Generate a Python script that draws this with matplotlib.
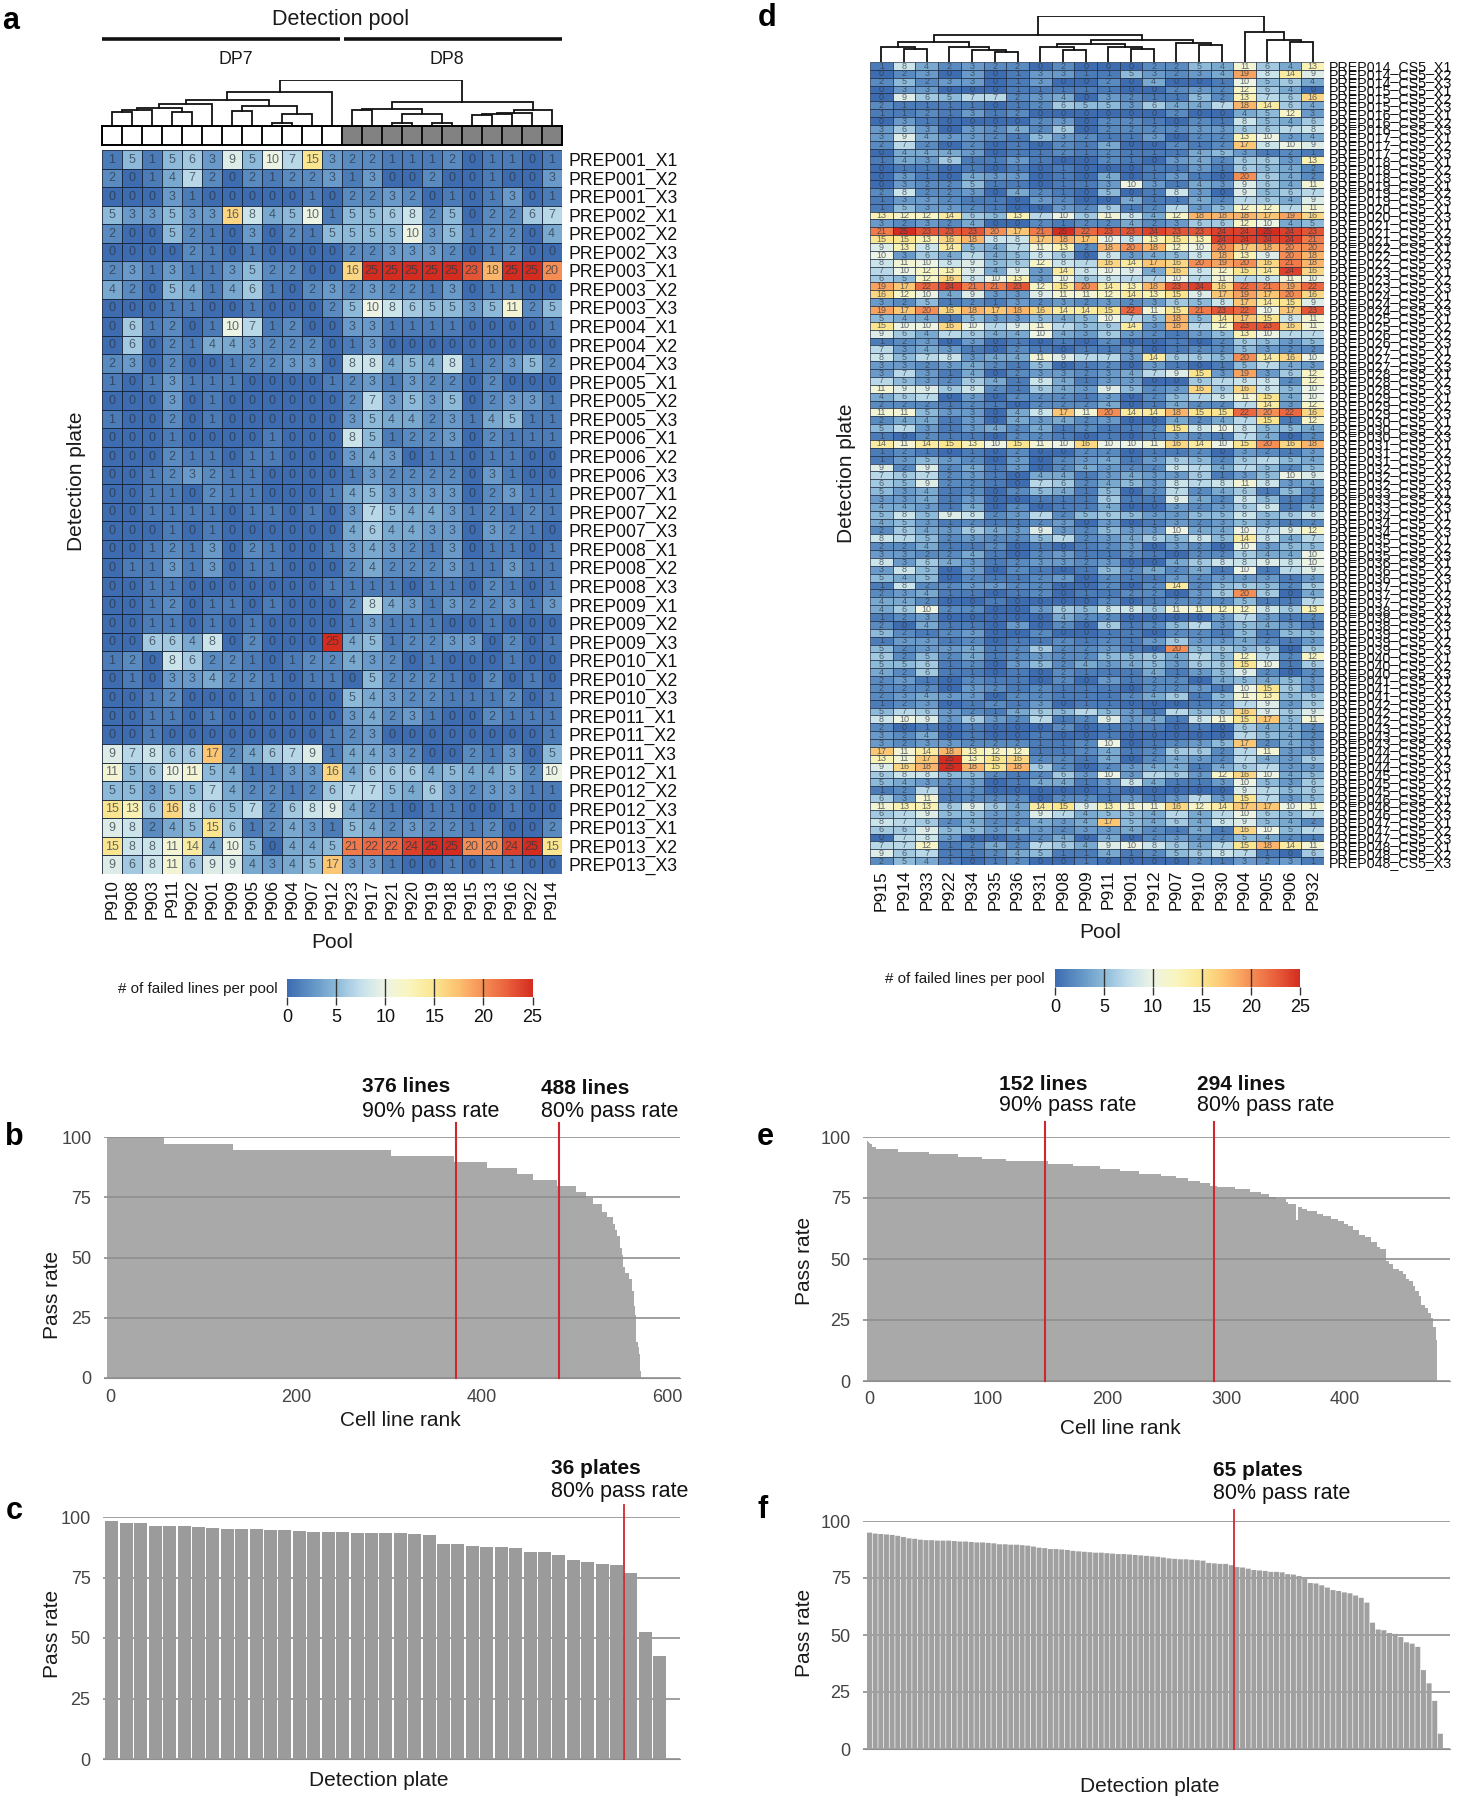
import numpy as np
import matplotlib
matplotlib.use('Agg')
import matplotlib.pyplot as plt
from matplotlib.colors import LinearSegmentedColormap

plt.rcParams['font.family'] = ['Liberation Sans', 'DejaVu Sans']

W, H = 1457, 1800

# panel a
pools_a = ['P910', 'P908', 'P903', 'P911', 'P902', 'P901', 'P909', 'P905', 'P906', 'P904', 'P907', 'P912',
           'P923', 'P917', 'P921', 'P920', 'P919', 'P918', 'P915', 'P913', 'P916', 'P922', 'P914']
plates_a = [f'PREP{p:03d}_X{k}' for p in range(1, 14) for k in (1, 2, 3)]
fails_a = [
    [1, 5, 1, 5, 6, 3, 9, 5, 10, 7, 15, 3, 2, 2, 1, 1, 1, 2, 0, 1, 1, 0, 1],
    [2, 0, 1, 4, 7, 2, 0, 2, 1, 2, 2, 3, 1, 3, 0, 0, 2, 0, 0, 1, 0, 0, 3],
    [0, 0, 0, 3, 1, 0, 0, 0, 0, 0, 1, 0, 2, 2, 3, 2, 0, 1, 0, 1, 3, 0, 1],
    [5, 3, 3, 5, 3, 3, 16, 8, 4, 5, 10, 1, 5, 5, 6, 8, 2, 5, 0, 2, 2, 6, 7],
    [2, 0, 0, 5, 2, 1, 0, 3, 0, 2, 1, 5, 5, 5, 5, 10, 3, 5, 1, 2, 2, 0, 4],
    [0, 0, 0, 0, 2, 1, 0, 1, 0, 0, 0, 0, 2, 2, 3, 3, 3, 2, 0, 1, 2, 0, 0],
    [2, 3, 1, 3, 1, 1, 3, 5, 2, 2, 0, 0, 16, 25, 25, 25, 25, 25, 23, 18, 25, 25, 20],
    [4, 2, 0, 5, 4, 1, 4, 6, 1, 0, 2, 3, 2, 3, 2, 2, 1, 3, 0, 1, 1, 0, 0],
    [0, 0, 0, 1, 1, 0, 0, 1, 0, 0, 0, 2, 5, 10, 8, 6, 5, 5, 3, 5, 11, 2, 5],
    [0, 6, 1, 2, 0, 1, 10, 7, 1, 2, 0, 0, 3, 3, 1, 1, 1, 1, 0, 0, 0, 0, 1],
    [0, 6, 0, 2, 1, 4, 4, 3, 2, 2, 2, 0, 1, 3, 0, 0, 0, 0, 0, 0, 0, 0, 0],
    [2, 3, 0, 2, 0, 0, 1, 2, 2, 3, 3, 0, 8, 8, 4, 5, 4, 8, 1, 2, 3, 5, 2],
    [1, 0, 1, 3, 1, 1, 1, 0, 0, 0, 0, 1, 2, 3, 1, 3, 2, 2, 0, 2, 0, 0, 0],
    [0, 0, 0, 3, 0, 1, 0, 0, 0, 0, 0, 0, 2, 7, 3, 5, 3, 5, 0, 2, 3, 3, 1],
    [1, 0, 0, 2, 0, 1, 0, 0, 0, 0, 0, 0, 3, 5, 4, 4, 2, 3, 1, 4, 5, 1, 1],
    [0, 0, 0, 1, 0, 0, 0, 0, 1, 0, 0, 0, 8, 5, 1, 2, 2, 3, 0, 2, 1, 1, 1],
    [0, 0, 0, 2, 1, 1, 0, 1, 1, 0, 0, 0, 3, 4, 3, 0, 1, 1, 0, 1, 1, 0, 0],
    [0, 0, 1, 2, 3, 2, 1, 1, 0, 0, 0, 0, 1, 3, 2, 2, 2, 2, 0, 3, 1, 0, 0],
    [0, 0, 1, 1, 0, 2, 1, 1, 0, 0, 0, 1, 4, 5, 3, 3, 3, 3, 0, 2, 3, 1, 1],
    [0, 0, 1, 1, 1, 1, 0, 1, 1, 0, 1, 0, 3, 7, 5, 4, 4, 3, 1, 2, 1, 2, 1],
    [0, 0, 0, 1, 0, 1, 0, 0, 0, 0, 0, 0, 4, 6, 4, 4, 3, 3, 0, 3, 2, 1, 0],
    [0, 0, 1, 2, 1, 3, 0, 2, 1, 0, 0, 1, 3, 4, 3, 2, 1, 3, 0, 1, 1, 0, 1],
    [0, 1, 1, 3, 1, 3, 0, 1, 1, 0, 0, 0, 2, 4, 2, 2, 2, 3, 1, 1, 3, 1, 1],
    [0, 0, 1, 1, 0, 0, 0, 0, 0, 0, 0, 1, 1, 1, 1, 0, 1, 1, 0, 2, 1, 0, 1],
    [0, 0, 1, 2, 0, 1, 1, 0, 1, 0, 0, 0, 2, 8, 4, 3, 1, 3, 2, 2, 3, 1, 3],
    [0, 0, 1, 1, 0, 1, 0, 1, 0, 0, 0, 0, 1, 3, 1, 1, 1, 0, 0, 1, 0, 0, 0],
    [0, 0, 6, 6, 4, 8, 0, 2, 0, 0, 0, 25, 4, 5, 1, 2, 2, 3, 3, 0, 2, 0, 1],
    [1, 2, 0, 8, 6, 2, 2, 1, 0, 1, 2, 2, 4, 3, 2, 0, 1, 0, 0, 0, 1, 0, 0],
    [0, 1, 0, 3, 3, 4, 2, 2, 1, 0, 1, 1, 0, 5, 2, 2, 2, 1, 0, 2, 0, 1, 0],
    [0, 0, 1, 2, 0, 0, 0, 1, 0, 0, 0, 0, 5, 4, 3, 2, 2, 1, 1, 1, 2, 0, 1],
    [0, 0, 1, 1, 0, 1, 0, 0, 0, 0, 0, 0, 3, 4, 2, 3, 1, 0, 0, 2, 1, 1, 1],
    [0, 0, 1, 0, 0, 0, 0, 0, 0, 0, 0, 1, 2, 3, 0, 0, 0, 0, 0, 0, 0, 0, 1],
    [9, 7, 8, 6, 6, 17, 2, 4, 6, 7, 9, 1, 4, 4, 3, 2, 0, 0, 2, 1, 3, 0, 5],
    [11, 5, 6, 10, 11, 5, 4, 1, 1, 3, 3, 16, 4, 6, 6, 6, 4, 5, 4, 4, 5, 2, 10],
    [5, 5, 3, 5, 5, 7, 4, 2, 2, 1, 2, 6, 7, 7, 5, 4, 6, 3, 2, 3, 3, 1, 1],
    [15, 13, 6, 16, 8, 6, 5, 7, 2, 6, 8, 9, 4, 2, 1, 0, 1, 1, 0, 0, 1, 0, 0],
    [9, 8, 2, 4, 5, 15, 6, 1, 2, 4, 3, 1, 5, 4, 2, 3, 2, 2, 1, 2, 0, 0, 2],
    [15, 8, 8, 11, 14, 4, 10, 5, 0, 4, 4, 5, 21, 22, 22, 24, 25, 25, 20, 20, 24, 25, 15],
    [9, 6, 8, 11, 6, 9, 9, 4, 3, 4, 5, 17, 3, 3, 1, 0, 0, 1, 0, 1, 1, 0, 0],
]
# dendrogram merges as (left, right, height), leaves are column numbers
dendro_a_left = ((((((0, 1, 39), 2, 46), (3, 4, 39), 51), 5, 64), ((6, 7, 42), ((8, 9, 5), 10, 33), 58), 76), 11, 100)
dendro_a_right = (((12, 13, 44), ((14, 15, 7), (16, 17, 7), 33), 47),
                  ((((18, 19, 29), 20, 33), 21, 36), 22, 46), 68)
root_a_height = 134

# panel d
pools_d = ['P915', 'P914', 'P933', 'P922', 'P934', 'P935', 'P936', 'P931', 'P908', 'P909',
           'P911', 'P901', 'P912', 'P907', 'P910', 'P930', 'P904', 'P905', 'P906', 'P932']
missing_d = ['PREP020_CS5_X2', 'PREP025_CS5_X3', 'PREP026_CS5_X1']
plates_d = [f'PREP{p:03d}_CS5_X{k}' for p in range(14, 49) for k in (1, 2, 3)]
plates_d = [p for p in plates_d if p not in missing_d]
fails_d = [
    [1, 8, 4, 2, 3, 2, 2, 0, 2, 0, 0, 0, 2, 2, 5, 4, 11, 6, 4, 13],
    [0, 2, 3, 0, 3, 0, 1, 3, 3, 1, 1, 5, 3, 2, 3, 4, 19, 8, 14, 9],
    [2, 5, 2, 3, 3, 0, 1, 3, 0, 0, 2, 0, 4, 0, 0, 1, 10, 5, 6, 4],
    [0, 3, 3, 0, 0, 0, 1, 1, 1, 1, 1, 0, 0, 2, 3, 2, 12, 6, 4, 0],
    [0, 9, 6, 5, 7, 7, 2, 3, 4, 0, 3, 2, 1, 1, 5, 2, 13, 7, 6, 16],
    [2, 1, 1, 1, 1, 0, 1, 2, 6, 5, 5, 3, 6, 4, 4, 7, 18, 14, 6, 4],
    [1, 1, 2, 1, 3, 1, 2, 0, 0, 0, 0, 0, 0, 2, 0, 0, 4, 5, 12, 3],
    [0, 3, 1, 0, 0, 0, 0, 2, 3, 0, 2, 2, 1, 0, 2, 1, 8, 5, 4, 6],
    [3, 6, 3, 0, 3, 2, 4, 2, 6, 0, 2, 2, 2, 2, 3, 3, 6, 6, 7, 8],
    [3, 9, 4, 3, 3, 2, 1, 5, 3, 2, 1, 1, 3, 0, 2, 2, 13, 10, 3, 4],
    [2, 7, 2, 0, 2, 0, 1, 0, 2, 1, 4, 0, 0, 2, 1, 2, 17, 8, 10, 9],
    [0, 4, 4, 4, 3, 0, 1, 1, 2, 1, 2, 1, 1, 1, 4, 5, 3, 1, 2, 1],
    [1, 4, 3, 6, 1, 1, 3, 1, 0, 0, 2, 1, 0, 3, 4, 2, 6, 6, 3, 13],
    [0, 1, 1, 0, 1, 0, 1, 0, 1, 0, 0, 0, 1, 1, 3, 1, 6, 5, 4, 2],
    [0, 3, 1, 0, 4, 3, 3, 0, 1, 0, 4, 0, 1, 3, 1, 0, 20, 6, 4, 2],
    [0, 3, 2, 2, 5, 1, 1, 0, 1, 1, 3, 10, 3, 1, 4, 3, 9, 6, 4, 11],
    [2, 8, 2, 2, 3, 0, 4, 2, 1, 0, 5, 0, 1, 8, 3, 0, 9, 5, 6, 7],
    [1, 3, 3, 2, 1, 1, 0, 3, 2, 0, 0, 4, 1, 1, 4, 2, 7, 6, 4, 9],
    [1, 5, 3, 3, 2, 1, 0, 0, 3, 2, 6, 1, 2, 7, 3, 5, 12, 12, 7, 11],
    [13, 12, 12, 14, 6, 5, 13, 7, 10, 6, 11, 8, 4, 12, 18, 18, 18, 17, 19, 16],
    [3, 2, 3, 2, 4, 0, 0, 2, 1, 2, 2, 4, 2, 3, 6, 6, 12, 10, 4, 5],
    [21, 25, 23, 23, 23, 20, 17, 21, 25, 22, 23, 23, 24, 23, 23, 24, 24, 25, 24, 23],
    [15, 15, 13, 16, 18, 8, 8, 17, 18, 17, 10, 8, 13, 15, 13, 24, 24, 24, 24, 21],
    [9, 13, 8, 14, 5, 4, 7, 11, 13, 2, 18, 20, 18, 12, 10, 20, 17, 18, 20, 20],
    [10, 3, 6, 4, 7, 4, 5, 8, 6, 0, 8, 3, 4, 5, 8, 18, 13, 9, 20, 18],
    [8, 11, 10, 8, 9, 5, 6, 12, 8, 7, 16, 14, 17, 16, 20, 19, 20, 16, 21, 18],
    [7, 10, 12, 13, 9, 4, 9, 3, 14, 8, 10, 9, 4, 16, 8, 12, 15, 14, 24, 16],
    [6, 5, 12, 16, 8, 10, 13, 3, 10, 6, 8, 7, 7, 10, 7, 11, 7, 8, 11, 10],
    [19, 17, 22, 24, 21, 21, 23, 12, 15, 20, 14, 13, 18, 23, 24, 16, 22, 21, 19, 22],
    [16, 12, 10, 4, 9, 3, 3, 9, 11, 11, 12, 14, 13, 15, 9, 17, 19, 17, 20, 16],
    [3, 2, 5, 1, 2, 1, 3, 2, 3, 2, 3, 2, 3, 6, 5, 8, 17, 14, 15, 9],
    [19, 17, 20, 16, 18, 17, 18, 16, 14, 14, 15, 22, 11, 15, 21, 23, 22, 10, 17, 23],
    [5, 4, 4, 1, 5, 3, 3, 5, 4, 5, 10, 7, 5, 18, 5, 14, 17, 15, 8, 11],
    [15, 10, 10, 16, 10, 7, 9, 11, 7, 5, 6, 14, 3, 18, 7, 12, 23, 23, 16, 11],
    [9, 6, 4, 7, 6, 4, 4, 10, 4, 3, 6, 3, 2, 1, 3, 5, 13, 10, 7, 7],
    [1, 2, 3, 0, 3, 0, 1, 0, 1, 0, 2, 0, 0, 1, 0, 2, 6, 5, 3, 5],
    [7, 3, 4, 3, 1, 0, 2, 1, 0, 1, 1, 2, 0, 1, 2, 2, 5, 3, 2, 2],
    [8, 5, 7, 8, 3, 4, 4, 11, 9, 7, 7, 3, 14, 6, 6, 5, 20, 14, 16, 10],
    [3, 3, 2, 3, 4, 2, 1, 5, 0, 1, 2, 0, 3, 1, 0, 1, 5, 7, 4, 3],
    [3, 7, 3, 1, 4, 0, 2, 3, 3, 2, 3, 4, 7, 9, 15, 3, 19, 3, 6, 12],
    [7, 5, 3, 2, 6, 4, 1, 8, 4, 1, 3, 3, 0, 0, 6, 7, 8, 8, 2, 12],
    [11, 9, 9, 6, 8, 2, 1, 6, 4, 3, 9, 5, 2, 3, 16, 6, 16, 8, 5, 10],
    [4, 6, 7, 0, 3, 0, 2, 2, 2, 1, 3, 0, 2, 5, 7, 8, 11, 15, 4, 10],
    [2, 2, 2, 1, 2, 1, 0, 2, 2, 2, 4, 0, 1, 4, 2, 2, 7, 14, 3, 12],
    [11, 11, 5, 3, 3, 0, 4, 8, 17, 11, 20, 14, 14, 18, 15, 15, 22, 20, 22, 16],
    [2, 4, 4, 1, 3, 0, 4, 3, 4, 2, 3, 0, 0, 4, 2, 4, 7, 15, 1, 12],
    [5, 7, 3, 1, 3, 4, 2, 4, 1, 2, 1, 1, 2, 15, 8, 10, 8, 5, 5, 4],
    [1, 0, 2, 1, 1, 0, 2, 2, 1, 0, 1, 0, 1, 3, 2, 1, 7, 4, 0, 2],
    [14, 11, 14, 15, 13, 10, 15, 11, 10, 16, 10, 10, 11, 16, 14, 10, 15, 20, 16, 18],
    [1, 2, 1, 0, 1, 0, 2, 0, 0, 2, 2, 0, 1, 1, 2, 0, 3, 2, 1, 3],
    [1, 3, 5, 3, 2, 0, 3, 0, 2, 3, 4, 1, 3, 6, 5, 2, 6, 7, 5, 4],
    [9, 2, 9, 2, 4, 1, 3, 0, 2, 4, 3, 2, 2, 8, 7, 4, 7, 5, 2, 5],
    [7, 6, 7, 2, 3, 1, 0, 4, 4, 1, 3, 4, 3, 3, 6, 1, 3, 5, 10, 9],
    [6, 5, 9, 2, 2, 1, 0, 7, 6, 2, 4, 5, 3, 8, 7, 8, 11, 8, 3, 4],
    [5, 3, 4, 1, 2, 0, 2, 5, 4, 1, 5, 0, 2, 7, 2, 4, 6, 1, 5, 2],
    [3, 3, 4, 1, 3, 0, 0, 1, 1, 1, 6, 1, 1, 9, 4, 2, 8, 5, 1, 2],
    [4, 4, 3, 1, 4, 0, 2, 0, 1, 1, 4, 0, 0, 3, 2, 3, 6, 8, 1, 4],
    [5, 8, 5, 9, 8, 2, 3, 7, 2, 5, 6, 5, 3, 3, 5, 5, 8, 5, 6, 8],
    [4, 5, 3, 1, 2, 1, 1, 2, 3, 0, 3, 0, 1, 3, 2, 3, 5, 3, 1, 2],
    [2, 6, 4, 3, 6, 4, 3, 9, 3, 2, 5, 3, 3, 10, 4, 4, 10, 7, 9, 12],
    [8, 7, 5, 2, 3, 2, 2, 5, 7, 2, 3, 4, 6, 5, 8, 5, 14, 8, 4, 7],
    [2, 2, 4, 1, 1, 2, 0, 1, 0, 1, 2, 3, 0, 3, 2, 0, 10, 3, 5, 5],
    [3, 3, 2, 2, 4, 1, 0, 2, 3, 1, 1, 2, 1, 0, 2, 2, 6, 4, 4, 10],
    [8, 3, 6, 4, 3, 1, 2, 3, 3, 2, 3, 0, 0, 4, 6, 8, 8, 9, 8, 10],
    [3, 8, 5, 0, 3, 0, 2, 1, 0, 1, 5, 2, 4, 2, 4, 1, 10, 1, 7, 9],
    [5, 4, 5, 0, 2, 1, 1, 2, 3, 0, 2, 1, 1, 3, 2, 3, 3, 3, 1, 3],
    [1, 8, 2, 2, 3, 3, 2, 2, 0, 0, 2, 0, 2, 14, 2, 5, 6, 5, 2, 6],
    [2, 3, 4, 1, 1, 0, 1, 2, 0, 1, 1, 2, 2, 0, 3, 6, 20, 6, 0, 4],
    [4, 4, 2, 0, 0, 1, 0, 0, 0, 0, 2, 0, 1, 2, 2, 2, 5, 1, 1, 7],
    [4, 6, 10, 2, 2, 0, 0, 3, 6, 5, 8, 8, 6, 11, 11, 12, 12, 8, 6, 13],
    [1, 2, 3, 0, 0, 0, 0, 0, 4, 2, 2, 0, 0, 0, 0, 3, 7, 3, 1, 2],
    [2, 0, 4, 1, 1, 0, 3, 0, 2, 0, 6, 1, 2, 5, 7, 3, 5, 4, 3, 1],
    [5, 2, 1, 2, 3, 0, 0, 2, 0, 0, 1, 1, 0, 2, 2, 1, 5, 1, 5, 5],
    [1, 3, 3, 1, 2, 0, 1, 1, 2, 1, 2, 1, 3, 6, 3, 3, 4, 2, 1, 3],
    [5, 2, 3, 3, 4, 1, 2, 6, 2, 2, 3, 1, 0, 20, 5, 6, 5, 6, 0, 6],
    [6, 2, 5, 2, 4, 1, 2, 3, 2, 2, 5, 5, 6, 4, 7, 5, 12, 7, 2, 12],
    [5, 5, 6, 1, 2, 0, 3, 5, 2, 4, 3, 4, 5, 3, 6, 6, 15, 10, 1, 6],
    [4, 2, 6, 1, 1, 0, 1, 0, 2, 1, 1, 1, 4, 1, 3, 5, 9, 2, 0, 2],
    [2, 3, 1, 0, 2, 1, 1, 0, 2, 0, 3, 1, 2, 2, 0, 4, 5, 4, 5, 3],
    [2, 2, 2, 0, 3, 2, 1, 2, 1, 1, 1, 0, 2, 2, 3, 1, 10, 15, 6, 3],
    [2, 3, 4, 3, 3, 0, 2, 2, 1, 1, 1, 2, 4, 6, 1, 5, 11, 13, 5, 6],
    [1, 2, 3, 0, 1, 2, 1, 3, 0, 1, 1, 0, 0, 0, 1, 2, 7, 9, 3, 6],
    [5, 7, 6, 3, 2, 1, 4, 6, 5, 7, 5, 3, 1, 7, 5, 6, 16, 9, 6, 9],
    [8, 10, 9, 3, 6, 3, 2, 7, 1, 2, 9, 3, 4, 1, 8, 11, 15, 17, 5, 11],
    [2, 0, 1, 0, 1, 0, 0, 0, 2, 0, 1, 1, 1, 0, 1, 0, 6, 4, 4, 2],
    [3, 2, 4, 0, 1, 0, 0, 1, 0, 0, 1, 0, 0, 0, 0, 0, 7, 5, 4, 2],
    [3, 2, 3, 3, 2, 2, 2, 1, 1, 2, 10, 0, 1, 2, 3, 5, 17, 2, 4, 3],
    [17, 11, 14, 18, 13, 12, 12, 1, 1, 2, 4, 1, 2, 6, 6, 2, 7, 11, 3, 3],
    [13, 11, 17, 25, 13, 15, 16, 2, 2, 1, 4, 0, 2, 4, 3, 2, 7, 4, 3, 6],
    [9, 16, 18, 25, 18, 15, 18, 6, 2, 0, 2, 3, 4, 4, 1, 4, 6, 7, 3, 3],
    [6, 8, 8, 5, 5, 2, 1, 2, 6, 3, 10, 3, 7, 6, 3, 12, 16, 10, 4, 5],
    [5, 4, 3, 2, 3, 0, 1, 4, 4, 1, 3, 8, 4, 1, 1, 3, 10, 5, 3, 6],
    [1, 2, 7, 1, 2, 0, 0, 0, 0, 0, 1, 0, 0, 0, 0, 0, 9, 7, 5, 6],
    [6, 3, 11, 1, 2, 2, 2, 0, 2, 2, 1, 3, 1, 3, 7, 3, 15, 7, 3, 5],
    [11, 13, 13, 6, 9, 6, 4, 14, 15, 9, 13, 11, 11, 16, 12, 14, 17, 17, 10, 11],
    [6, 7, 9, 5, 5, 3, 3, 9, 7, 4, 5, 5, 4, 7, 4, 7, 10, 6, 5, 7],
    [8, 7, 6, 2, 4, 2, 2, 4, 3, 4, 17, 5, 4, 6, 4, 8, 9, 5, 4, 2],
    [6, 6, 9, 5, 5, 3, 4, 3, 2, 3, 3, 4, 2, 1, 4, 1, 16, 10, 5, 7],
    [0, 7, 8, 3, 0, 0, 1, 2, 4, 0, 4, 0, 2, 3, 2, 2, 5, 4, 2, 1],
    [7, 7, 12, 1, 2, 4, 2, 7, 6, 4, 9, 10, 8, 6, 4, 7, 15, 18, 14, 11],
    [9, 6, 7, 1, 1, 2, 4, 5, 1, 1, 4, 1, 2, 5, 6, 8, 7, 1, 0, 6],
    [2, 5, 4, 1, 0, 1, 2, 0, 0, 1, 0, 0, 0, 0, 2, 1, 3, 2, 3, 1],
]
dendro_d_left = (((0, (1, 2, 40), 45), (3, (4, (5, 6, 30), 37), 47), 60),
                 (((7, (8, 9, 37), 45), (10, (11, 12, 40), 47), 55), (13, (14, 15, 52), 59), 68), 83)
dendro_d_right = (16, (17, (18, 19, 60), 68), 91)
root_d_height = 139

# pass rates of single cell lines, as level and number of lines at that level
rate_levels_b = [100, 97.3, 94.7, 92, 89.5, 87, 84.5, 82, 79.5, 77, 74.5, 72, 69, 66.6, 64, 61.5, 59, 54, 51, 46,
                 43.5, 41, 36, 30, 26, 15, 13, 10, 3]
rate_counts_b = [62, 75, 171, 68, 36, 32, 18, 26, 20, 11, 8, 10, 5, 7, 2, 2, 3, 2, 2, 2, 4, 3, 2, 2, 1, 2, 1, 1, 1]
rate_levels_e = [98.5, 98, 97.5, 97, 96, 95, 94, 93, 92, 91, 90, 89, 88, 87, 86, 85, 84, 83, 82, 81, 80, 79.5, 78.5,
                 77.5, 76.5, 75.5, 74.5, 73.5, 72.5, 66, 71.5, 70.5, 69.5, 68.5, 67.5, 66.5, 65.5, 64.5, 63.5, 62, 60,
                 59, 57, 55, 54, 49, 48, 46, 45, 44, 42, 41, 39, 37, 35, 31, 30, 28, 26, 22, 17]
rate_counts_e = [1, 1, 1, 1, 4, 18, 26, 25, 20, 20, 35, 21, 23, 17, 16, 18, 13, 10, 10, 8, 6, 15, 13,
                 9, 7, 6, 8, 2, 7, 1, 4, 4, 8, 5, 7, 6, 5, 3, 5, 5, 5,
                 5, 5, 2, 5, 3, 3, 5, 4, 2, 3, 3, 2, 3, 2, 3, 3, 2, 2, 2, 1]

# pass rates per plate
plate_rates_c = [98.2, 97.6, 97.5, 96.3, 96.3, 96.1, 95.8, 95.5, 95.2, 95.2, 94.9, 94.6, 94.6, 94.2, 94, 94, 93.7,
                 93.5, 93.2, 93.2, 93.2, 92.9, 92.7, 89, 88.7, 88, 87.6, 87.4, 87, 85.6, 85.4, 84.5, 82.4, 81.5,
                 80.6, 80.2, 77, 52.3, 42.7]
plate_rates_f = [94.9, 94.5, 94.3, 94.1, 93.9, 93.5, 93.0, 92.4, 92.2, 91.8, 91.6, 91.6, 91.4, 91.4, 91.4, 91.2, 91.0,
                 91.0, 90.8, 90.6, 90.6, 90.4, 90.2, 89.8, 89.8, 89.6, 89.6, 89.4, 89.2, 88.8, 88.3, 88.1, 87.7, 87.7,
                 87.5, 87.3, 86.9, 86.7, 86.5, 86.3, 86.1, 86.1, 85.9, 85.7, 85.5, 85.5, 85.3, 85.1, 84.9, 84.7, 84.5,
                 84.3, 84.0, 83.6, 83.4, 83.2, 83.2, 83.0, 82.8, 82.6, 81.6, 81.4, 81.2, 81.2, 80.6, 79.8, 79.6, 79.1,
                 78.5, 78.3, 78.1, 77.7, 77.7, 77.5, 76.7, 76.5, 75.9, 75.1, 72.8, 72.6, 71.8, 70.8, 69.7, 69.3, 68.7,
                 68.3, 67.3, 66.3, 64.2, 55.4, 52.4, 52.1, 50.9, 50.5, 49.1, 46.8, 46.2, 44.8, 34.6, 28.8, 21.1, 6.7]

cmap_colors = ['#3d6db0', '#6193c5', '#8dbad9', '#c4e0ec', '#eef4e3', '#faf5bd', '#fbe58f', '#fcc070', '#f58e55',
               '#e9603c', '#d42d20']
heat_cmap = LinearSegmentedColormap.from_list('fails', cmap_colors)

fig = plt.figure(figsize=(W / 100, H / 100), dpi=100)


def px_axes(left, top, right, bottom):
    return fig.add_axes([left / W, 1 - bottom / H, (right - left) / W, (bottom - top) / H])


def label(x, y, s, size=15, **kw):
    kw.setdefault('ha', 'center')
    kw.setdefault('va', 'center')
    kw.setdefault('color', '#1a1a1a')
    fig.text(x / W, 1 - y / H, s, fontsize=size, **kw)


def heatmap(box, data, rows, cols, cell_size, row_size, col_size, row_pad, col_pad, lw):
    ax = px_axes(*box)
    data = np.array(data)
    ax.pcolormesh(data, cmap=heat_cmap, vmin=0, vmax=25, edgecolors='#16233a', linewidth=lw, antialiased=True)
    ax.set_ylim(len(rows), 0)
    ax.set_xlim(0, len(cols))
    for i in range(data.shape[0]):
        for j in range(data.shape[1]):
            ax.text(j + 0.5, i + 0.52, str(data[i, j]), ha='center', va='center', fontsize=cell_size,
                    color='#2a3442', alpha=0.72)
    ax.yaxis.tick_right()
    ax.set_yticks(np.arange(len(rows)) + 0.5, rows, fontsize=row_size, color='#111111')
    ax.set_xticks(np.arange(len(cols)) + 0.5, cols, rotation=90, fontsize=col_size, color='#111111')
    ax.tick_params(length=0)
    ax.tick_params(axis='y', pad=row_pad)
    ax.tick_params(axis='x', pad=col_pad)
    for s in ax.spines.values():
        s.set_visible(False)
    return ax


def draw_tree(ax, node, lw):
    # returns position and height of the node
    if not isinstance(node, tuple):
        return node + 0.5, 0
    xa, ya = draw_tree(ax, node[0], lw)
    xb, yb = draw_tree(ax, node[1], lw)
    h = node[2]
    ax.plot([xa, xa, xb, xb], [ya, h, h, yb], color='#111111', lw=lw, solid_joinstyle='miter')
    return (xa + xb) / 2, h


def colorbar(box, tick_size):
    ax = px_axes(*box)
    sm = plt.cm.ScalarMappable(cmap=heat_cmap, norm=plt.Normalize(0, 25))
    cb = fig.colorbar(sm, cax=ax, orientation='horizontal', ticks=[0, 5, 10, 15, 20, 25])
    cb.outline.set_visible(False)
    cb.ax.tick_params(length=6, width=1, labelsize=tick_size, color='#333333', pad=3, labelcolor='#111111')
    for v in [5, 10, 15, 20]:
        ax.axvline(v, color='#333333', lw=1)


# panel a
ax_a = heatmap((102, 150, 561.5, 874), fails_a, plates_a, pools_a, 9, 12.7, 12.3, 5, 3.5, 0.6)
ax = px_axes(102, 80, 561.5, 125)
xl, yl = draw_tree(ax, dendro_a_left, 1.3)
xr, yr = draw_tree(ax, dendro_a_right, 1.3)
ax.plot([xl, xl, xr, xr], [yl, root_a_height, root_a_height, yr], color='#111111', lw=1.3)
ax.set_xlim(0, len(pools_a))
ax.set_ylim(0, root_a_height + 1)
ax.axis('off')

ax = px_axes(102, 126, 561.5, 145)
group_a = [0] * 12 + [1] * 11
ax.pcolormesh([group_a], cmap=LinearSegmentedColormap.from_list('g', ['white', '#828282']), edgecolors='#111111',
              linewidth=1.4)
ax.set_xticks([])
ax.set_yticks([])
for s in ax.spines.values():
    s.set_linewidth(1.4)

ax = px_axes(0, 0, W, H)
ax.set_xlim(0, W)
ax.set_ylim(H, 0)
ax.axis('off')
ax.plot([102, 340], [39, 39], color='#111111', lw=2.6, solid_capstyle='butt')
ax.plot([344, 561.5], [39, 39], color='#111111', lw=2.6, solid_capstyle='butt')

label(341, 20, 'Detection pool', 15.5)
label(236, 60, 'DP7', 12.8)
label(447, 60, 'DP8', 12.8)
label(332, 943, 'Pool', 15)
label(76, 481, 'Detection plate', 15, rotation=90)
label(278, 989, '# of failed lines per pool', 10.9, ha='right')
colorbar((287, 979, 532.5, 997), 13)

# panel d
ax_d = heatmap((870, 62, 1324, 865), fails_d, plates_d, pools_d, 6.5, 10.3, 12.5, 3.5, 3.5, 0.45)
ax = px_axes(870, 16, 1324, 62)
xl, yl = draw_tree(ax, dendro_d_left, 1.3)
xr, yr = draw_tree(ax, dendro_d_right, 1.3)
ax.plot([xl, xl, xr, xr], [yl, root_d_height, root_d_height, yr], color='#111111', lw=1.3)
ax.set_xlim(0, len(pools_d))
ax.set_ylim(0, root_d_height + 1)
ax.axis('off')

label(1100, 933, 'Pool', 15)
label(846, 473, 'Detection plate', 15, rotation=90)
label(1045, 979, '# of failed lines per pool', 10.9, ha='right')
colorbar((1055, 969, 1300, 987), 13)


def rate_axes(box, xlim, grid_on_top):
    ax = px_axes(*box)
    ax.set_ylim(0, 100)
    ax.set_xlim(*xlim)
    for s in ax.spines.values():
        s.set_visible(False)
    ax.set_axisbelow(not grid_on_top)
    ax.yaxis.grid(True, color='#8f8f8f', lw=1.2, zorder=3 if grid_on_top else 0)
    ax.set_yticks([0, 25, 50, 75, 100])
    ax.tick_params(axis='y', length=0, labelsize=13, labelcolor='#444444', pad=9)
    ax.spines['bottom'].set_visible(True)
    ax.spines['bottom'].set_color('#8f8f8f')
    return ax


def note(x, y1, y2, head, sub):
    label(x, y1, head, 15, ha='left', fontweight='bold', color='#111111')
    label(x, y2, sub, 15.5, ha='left', color='#111111')


# panel b
ax = rate_axes((104, 1137, 680, 1378), (-5.4, 619.3), True)
rates_b = np.repeat(rate_levels_b, rate_counts_b)
ax.bar(np.arange(len(rates_b)) - 1.5, rates_b, width=1, color='#a9a9a9', linewidth=0)
ax.set_xticks([1, 203, 404, 605], ['0', '200', '400', '600'])
ax.tick_params(axis='x', length=0, labelsize=13, labelcolor='#444444', pad=8)
for v in [376, 488]:
    ax.plot([v, v], [0, 106], color='#d0262f', lw=1.5, clip_on=False, zorder=5)
label(400, 1421, 'Cell line rank', 15)
label(52, 1295, 'Pass rate', 15, rotation=90)
note(362.5, 1087, 1111, '376 lines', '90% pass rate')
note(541, 1089, 1112, '488 lines', '80% pass rate')

# panel c
ax = rate_axes((103, 1517, 680, 1759), (-0.12, 39.9), False)
ax.bar(np.arange(len(plate_rates_c)) + 0.5, plate_rates_c, width=0.9, color='#9b9b9b', linewidth=0)
ax.set_xticks([])
ax.plot([36, 36], [0, 105], color='#d0262f', lw=1.3, clip_on=False, zorder=5)
label(379, 1780, 'Detection plate', 15)
label(52, 1634, 'Pass rate', 15, rotation=90)
note(551, 1469, 1492, '36 plates', '80% pass rate')

# panel e
ax = rate_axes((863, 1137, 1450, 1381), (-1.2, 492.1), True)
rates_e = np.repeat(rate_levels_e, rate_counts_e)
ax.bar(np.arange(len(rates_e)) + 2.5, rates_e, width=1, color='#a9a9a9', linewidth=0)
ax.set_xticks([4, 104, 204, 304, 404], ['0', '100', '200', '300', '400'])
ax.tick_params(axis='x', length=0, labelsize=13, labelcolor='#444444', pad=7)
for v in [152, 294]:
    ax.plot([v, v], [0, 106], color='#d0262f', lw=1.5, clip_on=False, zorder=5)
label(1120, 1429, 'Cell line rank', 15)
label(805, 1261, 'Pass rate', 15, rotation=90)
note(999, 1084, 1106, '152 lines', '90% pass rate')
note(1197, 1084, 1106, '294 lines', '80% pass rate')

# panel f
ax = rate_axes((863, 1521, 1450, 1749), (-0.65, 103.2), False)
bars_f = ax.bar(np.arange(len(plate_rates_f)) + 0.5, plate_rates_f, width=0.88, color='#a0a0a0', linewidth=0)
for b in bars_f:
    b.set_snap(False)
ax.set_xticks([])
ax.plot([65, 65], [0, 105], color='#d0262f', lw=1.3, clip_on=False, zorder=5)
label(1150, 1786, 'Detection plate', 15)
label(805, 1633, 'Pass rate', 15, rotation=90)
note(1213, 1471, 1494, '65 plates', '80% pass rate')

# panel letters
for x, y, s in [(11, 21, 'a'), (14, 1137, 'b'), (14, 1511, 'c'), (767, 18, 'd'), (765, 1137, 'e'), (763, 1510, 'f')]:
    label(x, y, s, 22, fontweight='bold', color='#000000')

fig.savefig('out.png', dpi=100)
